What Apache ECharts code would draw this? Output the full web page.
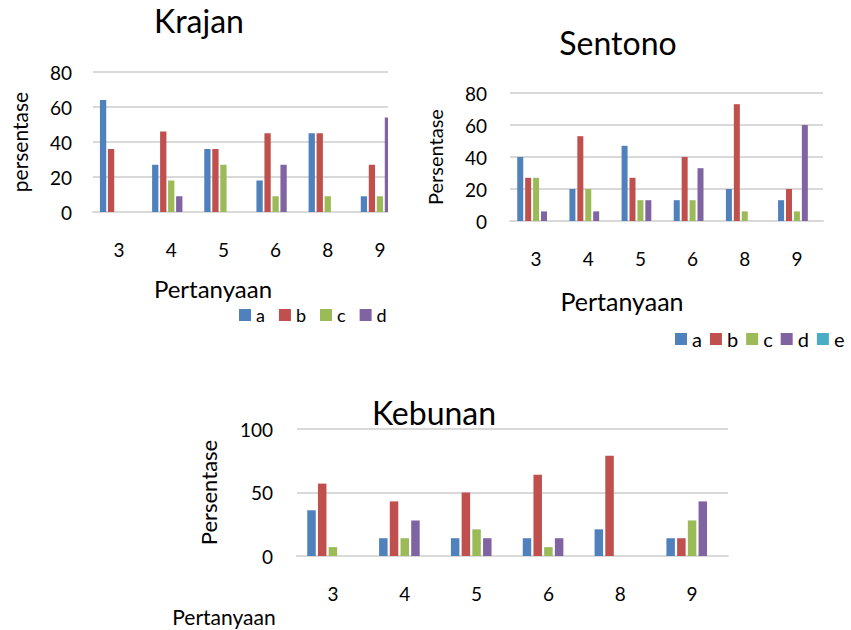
<!DOCTYPE html>
<html>
<head>
<meta charset="utf-8">
<script src="https://cdn.jsdelivr.net/npm/echarts@6/dist/echarts.min.js"></script>
<style>
  html, body { margin: 0; padding: 0; background: #fff; }
  #krajanWrap { position: absolute; left: 0; top: 0; width: 388px; height: 330px; overflow: hidden; }
  #krajan { width: 430px; height: 330px; }
  #sentono { position: absolute; left: 400px; top: 0; width: 451px; height: 360px; }
  #kebunan { position: absolute; left: 160px; top: 380px; width: 620px; height: 250px; }
</style>
</head>
<body>
<div id="krajanWrap"><div id="krajan"></div></div>
<div id="sentono"></div>
<div id="kebunan"></div>

<script>
// data
const categories = ['3', '4', '5', '6', '8', '9']
const seriesNames = ['a', 'b', 'c', 'd', 'e']
const colors = ['#4F81BD', '#C0504D', '#9BBB59', '#8064A2', '#4BACC6']

const krajanA = [64, 27, 36, 18, 45, 9]
const krajanB = [36, 46, 36, 45, 45, 27]
const krajanC = [0, 18, 27, 9, 9, 9]
const krajanD = [0, 9, 0, 27, 0, 54]
const krajanE = [0, 0, 0, 0, 0, 0]

const sentonoA = [40, 20, 47, 13, 20, 13]
const sentonoB = [27, 53, 27, 40, 73, 20]
const sentonoC = [27, 20, 13, 13, 6, 6]
const sentonoD = [6, 6, 13, 33, 0, 60]
const sentonoE = [0, 0, 0, 0, 0, 0]

const kebunanA = [36, 14, 14, 14, 21, 14]
const kebunanB = [57, 43, 50, 64, 79, 14]
const kebunanC = [7, 14, 21, 7, 0, 28]
const kebunanD = [0, 28, 14, 14, 0, 43]
const kebunanE = [0, 0, 0, 0, 0, 0]

const font = 'Lato, Carlito, sans-serif'
const gridColor = '#D9D9D9'

// x/y = centre of the text, lh = line box height
function makeTitle (text, x, y, size, lh) {
  return {
    text: text,
    left: x,
    top: y - lh / 2,
    padding: 0,
    textAlign: 'center',
    textStyle: { fontFamily: font, fontSize: size, lineHeight: lh, fontWeight: 'normal', color: '#000' }
  }
}

function makeSeries (values, barWidth, barGap) {
  return values.map((data, i) => ({
    name: seriesNames[i],
    type: 'bar',
    data: data,
    barWidth: barWidth,
    barGap: barGap,
    itemStyle: { color: colors[i] },
    emphasis: { disabled: true }
  }))
}

function makeOption (cfg) {
  const option = {
    animation: false,
    title: [
      makeTitle(cfg.title, cfg.titleX, cfg.titleY, 32, 32),
      makeTitle('Pertanyaan', cfg.xNameX, cfg.xNameY, cfg.xNameSize, cfg.xNameSize - 5)
    ],
    grid: cfg.grid,
    xAxis: {
      type: 'category',
      data: categories,
      axisLine: { lineStyle: { color: gridColor, width: 2 } },
      axisTick: { show: false },
      axisLabel: { color: '#000', fontFamily: font, fontSize: 19, margin: 28 }
    },
    yAxis: {
      type: 'value',
      min: 0,
      max: cfg.yMax,
      interval: cfg.yInterval,
      name: cfg.yName,
      nameLocation: 'middle',
      nameRotate: 90,
      nameGap: cfg.yNameGap,
      nameTextStyle: { color: '#000', fontFamily: font, fontSize: cfg.yNameSize },
      axisLine: { show: false },
      axisTick: { show: false },
      axisLabel: { color: '#000', fontFamily: font, fontSize: 19, margin: cfg.yLabelMargin },
      splitLine: { lineStyle: { color: gridColor, width: 2 } }
    },
    series: makeSeries(cfg.values, cfg.barWidth, cfg.barGap)
  }
  if (cfg.legend) {
    option.legend = {
      data: cfg.legend,
      left: cfg.legendX,
      top: cfg.legendY - 7,
      padding: 0,
      itemWidth: 12,
      itemHeight: 12,
      itemGap: cfg.legendGap,
      icon: 'rect',
      selectedMode: false,
      textStyle: { color: '#000', fontFamily: font, fontSize: cfg.legendSize, lineHeight: 14 }
    }
  }
  return option
}

const krajanChart = echarts.init(document.getElementById('krajan'), null, { renderer: 'svg' })
krajanChart.setOption(makeOption({
  title: 'Krajan', titleX: 199, titleY: 20,
  xNameX: 213, xNameY: 288, xNameSize: 24,
  grid: { left: 93, top: 72, width: 313, height: 140 },
  yMax: 80, yInterval: 20,
  yName: 'persentase', yNameGap: 63, yNameSize: 21, yLabelMargin: 21,
  values: [krajanA, krajanB, krajanC, krajanD, krajanE],
  barWidth: 6.3, barGap: '27%',
  legend: ['a', 'b', 'c', 'd'], legendX: 239, legendY: 313, legendGap: 14, legendSize: 18
}))

const sentonoChart = echarts.init(document.getElementById('sentono'), null, { renderer: 'svg' })
sentonoChart.setOption(makeOption({
  title: 'Sentono', titleX: 218, titleY: 42,
  xNameX: 222, xNameY: 301, xNameSize: 25,
  grid: { left: 110, top: 93, width: 313, height: 128 },
  yMax: 80, yInterval: 20,
  yName: 'Persentase', yNameGap: 65, yNameSize: 20, yLabelMargin: 23,
  values: [sentonoA, sentonoB, sentonoC, sentonoD, sentonoE],
  barWidth: 6, barGap: '32%',
  legend: ['a', 'b', 'c', 'd', 'e'], legendX: 275, legendY: 336, legendGap: 8, legendSize: 20
}))

const kebunanChart = echarts.init(document.getElementById('kebunan'), null, { renderer: 'svg' })
kebunanChart.setOption(makeOption({
  title: 'Kebunan', titleX: 274, titleY: 32,
  xNameX: 64, xNameY: 236, xNameSize: 21,
  grid: { left: 137, top: 49, width: 431, height: 127 },
  yMax: 100, yInterval: 50,
  yName: 'Persentase', yNameGap: 78, yNameSize: 22, yLabelMargin: 24,
  values: [kebunanA, kebunanB, kebunanC, kebunanD, kebunanE],
  barWidth: 8.5, barGap: '26%'
}))

window.addEventListener('resize', () => {
  krajanChart.resize()
  sentonoChart.resize()
  kebunanChart.resize()
})
</script>
</body>
</html>
